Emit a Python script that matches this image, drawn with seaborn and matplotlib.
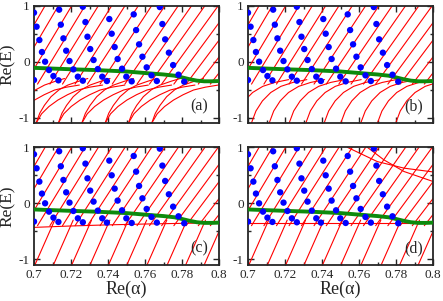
import matplotlib
matplotlib.use("Agg")
import matplotlib.pyplot as plt
import pandas as pd
import seaborn as sns

sns.set_style("ticks")
plt.rcParams['font.family'] = ['Liberation Serif', 'DejaVu Serif']

# blue dots (same in every panel)
dots_x = [0.7000, 0.7014, 0.7029, 0.7043, 0.7060, 0.7081, 0.7105, 0.7132, 0.7000,
          0.7136, 0.7145, 0.7159, 0.7174, 0.7192, 0.7213, 0.7237, 0.7264,
          0.7264, 0.7278, 0.7289, 0.7304, 0.7322, 0.7345, 0.7369, 0.7394,
          0.7407, 0.7420, 0.7436, 0.7452, 0.7476, 0.7499, 0.7528,
          0.7539, 0.7552, 0.7568, 0.7586, 0.7609, 0.7635, 0.7664,
          0.7680, 0.7694, 0.7709, 0.7729, 0.7752, 0.7781, 0.7812]
dots_y = [0.875, 0.625, 0.387, 0.173, 0.000, -0.149, -0.256, -0.333, -0.327,
          0.929, 0.661, 0.417, 0.196, 0.012, -0.137, -0.268, -0.339,
          0.982, 0.708, 0.446, 0.226, 0.030, -0.131, -0.268, -0.345,
          0.762, 0.500, 0.262, 0.048, -0.125, -0.268, -0.351,
          0.845, 0.565, 0.310, 0.089, -0.101, -0.244, -0.345,
          0.976, 0.673, 0.399, 0.161, -0.060, -0.232, -0.357]

# green curve
green_x = [0.700, 0.720, 0.734, 0.750, 0.761, 0.770, 0.776, 0.780, 0.784, 0.788, 0.792, 0.796, 0.800]
green_y = [-0.110, -0.135, -0.150, -0.175, -0.205, -0.228, -0.250, -0.280, -0.312, -0.338, -0.350, -0.350, -0.345]

# upper red lines (all panels): where they leave the top (E = 1) and lower end at E = -0.4
upper_top = [0.7060, 0.7132, 0.7204, 0.7276, 0.7348, 0.7420, 0.7492, 0.7564, 0.7636, 0.7708,
             0.7780, 0.7852, 0.7924, 0.7996, 0.8068, 0.8140, 0.8212, 0.8284]
upper_low = [0.6814, 0.6882, 0.6951, 0.7019, 0.7086, 0.7154, 0.7222, 0.7289, 0.7357, 0.7423,
             0.7491, 0.7557, 0.7624, 0.7690, 0.7756, 0.7822, 0.7888, 0.7953]

# panel (a): pairs of arcs rising from the bottom
arcs_a_x = [
    [0.6885, 0.6905, 0.6930, 0.6966, 0.7010, 0.7057, 0.7115, 0.7165],
    [0.6885, 0.6915, 0.6955, 0.7003, 0.7055, 0.7111, 0.7175, 0.7245],
    [0.7011, 0.7031, 0.7056, 0.7092, 0.7136, 0.7183, 0.7241, 0.7291],
    [0.7011, 0.7041, 0.7081, 0.7129, 0.7181, 0.7237, 0.7301, 0.7371],
    [0.7131, 0.7151, 0.7176, 0.7212, 0.7256, 0.7303, 0.7361, 0.7411],
    [0.7131, 0.7161, 0.7201, 0.7249, 0.7301, 0.7357, 0.7421, 0.7491],
    [0.7258, 0.7278, 0.7303, 0.7339, 0.7383, 0.7430, 0.7488, 0.7538],
    [0.7258, 0.7288, 0.7328, 0.7376, 0.7428, 0.7484, 0.7548, 0.7618],
    [0.7384, 0.7404, 0.7429, 0.7465, 0.7509, 0.7556, 0.7614, 0.7664],
    [0.7384, 0.7414, 0.7454, 0.7502, 0.7554, 0.7610, 0.7674, 0.7744],
    [0.7510, 0.7530, 0.7555, 0.7591, 0.7635, 0.7682, 0.7740, 0.7790],
    [0.7510, 0.7540, 0.7580, 0.7628, 0.7680, 0.7736, 0.7800, 0.7870],
    [0.7636, 0.7656, 0.7681, 0.7717, 0.7761, 0.7808, 0.7866, 0.7916],
    [0.7636, 0.7666, 0.7706, 0.7754, 0.7806, 0.7862, 0.7926, 0.7996],
]
arc_steep_y = [-1.10, -0.92, -0.78, -0.625, -0.50, -0.417, -0.35, -0.30]
arc_flat_y = [-1.10, -0.93, -0.80, -0.685, -0.59, -0.506, -0.455, -0.417]
arcs_a_y = [arc_steep_y, arc_flat_y] * 7

# panel (b): single arcs
arcs_b_x = [
    [0.6920, 0.6945, 0.6980, 0.7025, 0.7080, 0.7145, 0.7220],
    [0.7018, 0.7043, 0.7078, 0.7123, 0.7178, 0.7243, 0.7318],
    [0.7114, 0.7139, 0.7174, 0.7219, 0.7274, 0.7339, 0.7414],
    [0.7222, 0.7247, 0.7282, 0.7327, 0.7382, 0.7447, 0.7522],
    [0.7312, 0.7337, 0.7372, 0.7417, 0.7472, 0.7537, 0.7612],
    [0.7411, 0.7436, 0.7471, 0.7516, 0.7571, 0.7636, 0.7711],
    [0.7501, 0.7526, 0.7561, 0.7606, 0.7661, 0.7726, 0.7801],
    [0.7609, 0.7634, 0.7669, 0.7714, 0.7769, 0.7834, 0.7909],
    [0.7699, 0.7724, 0.7759, 0.7804, 0.7859, 0.7924, 0.7999],
    [0.7798, 0.7823, 0.7858, 0.7903, 0.7958, 0.8023, 0.8098],
]
arc_b_y = [-1.10, -0.88, -0.70, -0.55, -0.44, -0.37, -0.32]
arcs_b_y = [arc_b_y] * 10

# panels (c), (d): steeper lines below the band (bottom end at E = -1.1, top end at E = -0.3)
lower_bot = [0.6905, 0.7005, 0.7105, 0.7204, 0.7303, 0.7403, 0.7502, 0.7611, 0.7720, 0.7820, 0.7920]
lower_top = [0.7012, 0.7112, 0.7212, 0.7311, 0.7410, 0.7510, 0.7609, 0.7718, 0.7827, 0.7927, 0.8027]

band_c_x = [0.700, 0.720, 0.740, 0.760, 0.780, 0.800]
band_c_y = [-0.430, -0.405, -0.385, -0.370, -0.358, -0.350]
band_d_x = [0.700, 0.800]
band_d_y = [-0.345, -0.345]
extra_d_x = [[0.7537, 0.7699, 0.7843, 0.8000], [0.7645, 0.7735, 0.7843, 0.8000]]
extra_d_y = [[1.000, 0.745, 0.628, 0.560], [1.000, 0.775, 0.568, 0.390]]

xticks = [0.70, 0.72, 0.74, 0.76, 0.78, 0.80]
xtick_labels = ['0.7', '0.72', '0.74', '0.76', '0.78', '0.8']
yticks = [-1, 0, 1]
ytick_labels = ['-1', '0', '1']
panel_tags = ['(a)', '(b)', '(c)', '(d)']


def curves_frame(xs_list, ys_list):
    rows = []
    for i, (xs, ys) in enumerate(zip(xs_list, ys_list)):
        for x, y in zip(xs, ys):
            rows.append({'curve': i, 'x': x, 'y': y})
    return pd.DataFrame(rows)


up_x = [[lo, t] for lo, t in zip(upper_low, upper_top)]
up_y = [[-0.40, 1.0] for _ in upper_top]
low_x = [[b, t] for b, t in zip(lower_bot, lower_top)]
low_y = [[-1.10, -0.30] for _ in lower_bot]

panel_curves = [
    (up_x + arcs_a_x, up_y + arcs_a_y),
    (up_x + arcs_b_x, up_y + arcs_b_y),
    (up_x + low_x + [band_c_x], up_y + low_y + [band_c_y]),
    (up_x + low_x + [band_d_x] + extra_d_x, up_y + low_y + [band_d_y] + extra_d_y),
]

W, H = 443, 301
fig = plt.figure(figsize=(W / 100, H / 100), dpi=100)
lefts = [34, 248]
tops = [5.7, 147.3]
pw, ph = 185, 117.6
dots = pd.DataFrame({'x': dots_x, 'y': dots_y})
green = pd.DataFrame({'x': green_x, 'y': green_y})

for k in range(4):
    row, col = divmod(k, 2)
    ax = fig.add_axes([lefts[col] / W, 1 - (tops[row] + ph) / H, pw / W, ph / H])
    cx, cy = panel_curves[k]
    df = curves_frame(cx, cy)
    sns.lineplot(data=df, x='x', y='y', units='curve', estimator=None, sort=False,
                 color='#ff0000', linewidth=0.8, ax=ax, legend=False)
    sns.lineplot(data=green, x='x', y='y', sort=False, color='#0d8a0d',
                 linewidth=2.8, ax=ax, legend=False, zorder=4)
    sns.scatterplot(data=dots, x='x', y='y', color='#0000ff', s=21,
                    edgecolor='none', ax=ax, zorder=5, legend=False)
    ax.set_xlim(0.7, 0.8)
    ax.set_ylim(-1.1, 1.0)
    ax.set_xticks(xticks)
    ax.set_xticks([0.71, 0.73, 0.75, 0.77, 0.79], minor=True)
    ax.set_yticks(yticks)
    ax.set_yticks([-0.5, 0.5], minor=True)
    ax.set_yticklabels(ytick_labels)
    if row == 1:
        ax.set_xticklabels(xtick_labels)
        ax.set_xlabel('Re(α)', fontsize=13, labelpad=0)
    else:
        ax.set_xticklabels([])
        ax.set_xlabel('')
    if col == 0:
        ax.set_ylabel('Re(E)', fontsize=12.5, labelpad=2)
    else:
        ax.set_ylabel('')
    ax.tick_params(which='both', direction='in', top=True, right=True,
                   labelsize=9.5, pad=3, width=1.0)
    ax.tick_params(which='major', length=4.5)
    ax.tick_params(which='minor', length=2.5)
    for sp in ax.spines.values():
        sp.set_linewidth(1.3)
    ax.text(0.7895, -0.80, panel_tags[k], ha='center', va='center', fontsize=11.5)

fig.savefig('out.png', dpi=100)
